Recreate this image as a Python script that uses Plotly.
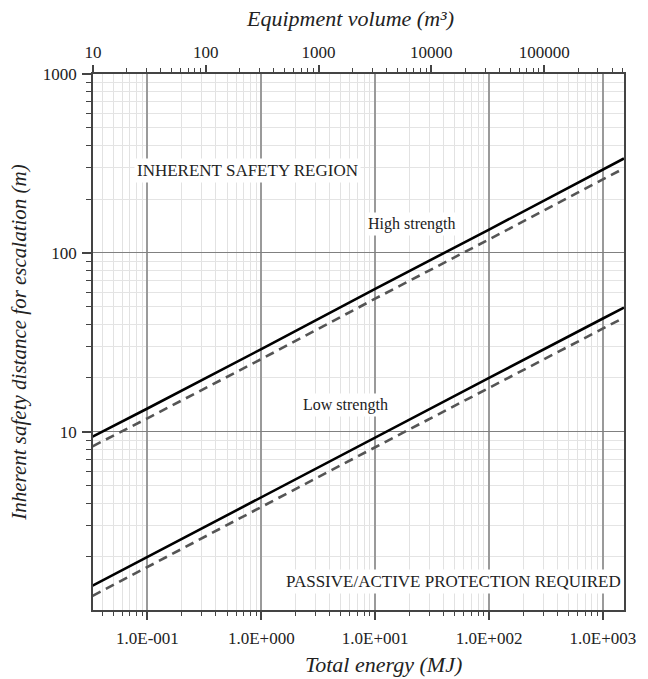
import plotly.graph_objects as go

# Total energy (MJ) at which each line is read
energy = [0.033, 0.1, 1, 10, 100, 1000, 1530]

# Inherent safety distance for escalation (m)
high_solid = [9.4, 13.5, 29, 63, 135, 292, 337]
high_dashed = [8.3, 11.9, 25.5, 55.5, 119, 257, 297]
low_solid = [1.38, 2.0, 4.3, 9.3, 20, 43, 49.5]
low_dashed = [1.21, 1.76, 3.8, 8.2, 17.6, 38, 43.5]

# Axis ticks
energy_ticks = [0.1, 1, 10, 100, 1000]
energy_labels = ["1.0E-001", "1.0E+000", "1.0E+001", "1.0E+002", "1.0E+003"]
volume_ticks = [10, 100, 1000, 10000, 100000]
volume_labels = ["10", "100", "1000", "10000", "100000"]
distance_ticks = [10, 100, 1000]
distance_labels = ["10", "100", "1000"]

SERIF = "Liberation Serif, Times New Roman, serif"


def minor_vals(lo_exp, hi_exp):
    return [m * 10.0 ** e for e in range(lo_exp, hi_exp) for m in range(2, 10)]


fig = go.Figure()

line_specs = [
    (high_solid, dict(color="#000000", width=2.6)),
    (high_dashed, dict(color="#555555", width=2.6, dash="9px,6px")),
    (low_solid, dict(color="#000000", width=2.6)),
    (low_dashed, dict(color="#555555", width=2.6, dash="9px,6px")),
]
for vals, style in line_specs:
    fig.add_trace(go.Scatter(x=energy, y=vals, mode="lines", line=style,
                             showlegend=False, hoverinfo="skip"))

# Carrier trace so the volume axis on top is drawn
fig.add_trace(go.Scatter(x=[100], y=[10], xaxis="x2", mode="markers",
                         marker=dict(opacity=0), showlegend=False,
                         hoverinfo="skip"))

tick_font = dict(family=SERIF, size=17, color="#222222")
title_font = dict(family=SERIF, size=22, color="#222222", style="italic")

fig.update_layout(
    width=648, height=679,
    margin=dict(l=93, r=19, t=74, b=69),
    paper_bgcolor="white", plot_bgcolor="white",
    xaxis=dict(
        type="log", range=[-1.478, 3.185],
        tickmode="array", tickvals=energy_ticks, ticktext=energy_labels,
        ticks="outside", ticklen=8, tickwidth=1.5, tickcolor="#444444",
        ticklabelstandoff=4,
        showgrid=True, gridcolor="#9a9a9a", gridwidth=1.5,
        minor=dict(tickmode="array", tickvals=minor_vals(-2, 4),
                   ticks="outside", ticklen=4, tickwidth=1,
                   tickcolor="#444444", showgrid=True,
                   gridcolor="#e2e2e2", gridwidth=1),
        showline=True, linecolor="#444444", linewidth=1.5,
        tickfont=tick_font,
        zeroline=False,
    ),
    xaxis2=dict(
        type="log", range=[1.0, 5.708], overlaying="x", side="top",
        anchor="y",
        tickmode="array", tickvals=volume_ticks, ticktext=volume_labels,
        ticks="outside", ticklen=7, tickwidth=1.5, tickcolor="#444444",
        ticklabelstandoff=0,
        showgrid=False,
        minor=dict(tickmode="array", tickvals=minor_vals(1, 6),
                   ticks="outside", ticklen=4, tickwidth=1,
                   tickcolor="#444444", showgrid=False),
        showline=True, linecolor="#444444", linewidth=1.5,
        tickfont=tick_font,
        zeroline=False,
    ),
    yaxis=dict(
        type="log", range=[0.004, 3.0],
        tickmode="array", tickvals=distance_ticks, ticktext=distance_labels,
        ticks="outside", ticklen=9, tickwidth=1.5, tickcolor="#444444",
        ticklabelstandoff=2,
        showgrid=True, gridcolor="#808080", gridwidth=1.2,
        minor=dict(tickmode="array", tickvals=minor_vals(0, 3),
                   ticks="outside", ticklen=5, tickwidth=1,
                   tickcolor="#444444", showgrid=True,
                   gridcolor="#e4e4e4", gridwidth=1),
        showline=True, linecolor="#444444", linewidth=1.5, mirror=True,
        tickfont=tick_font,
        title=dict(text="Inherent safety distance for escalation (m)",
                   font=dict(family=SERIF, size=21, color="#222222",
                             style="italic"),
                   standoff=10),
        zeroline=False,
    ),
)

# Axis titles for energy (bottom) and volume (top), placed in pixels
# relative to the plotting area
plot_left, plot_w = 93, 536
plot_top, plot_h = 74, 536


def px(xp):
    return (xp - plot_left) / plot_w


def py(yp):
    return 1 - (yp - plot_top) / plot_h


fig.add_annotation(text="Total energy (MJ)", x=px(386), y=py(664),
                   xref="paper", yref="paper", xanchor="center",
                   yanchor="middle", showarrow=False, font=title_font)
fig.add_annotation(text="Equipment volume (m³)", x=px(352), y=py(19),
                   xref="paper", yref="paper", xanchor="center",
                   yanchor="middle", showarrow=False, font=title_font)

label_font = dict(family=SERIF, size=17, color="#222222")
small_font = dict(family=SERIF, size=16, color="#222222")
region_labels = [
    ("INHERENT SAFETY REGION", 249, 170, label_font),
    ("PASSIVE/ACTIVE PROTECTION REQUIRED", 457, 581, label_font),
    ("High strength", 415, 224, small_font),
    ("Low strength", 348, 405, small_font),
]
for text, xp, yp, font in region_labels:
    fig.add_annotation(text=text, x=px(xp), y=py(yp), xref="paper",
                       yref="paper", xanchor="center", yanchor="middle",
                       showarrow=False, font=font, bgcolor="white",
                       borderpad=2)

fig.write_html("out.html")
